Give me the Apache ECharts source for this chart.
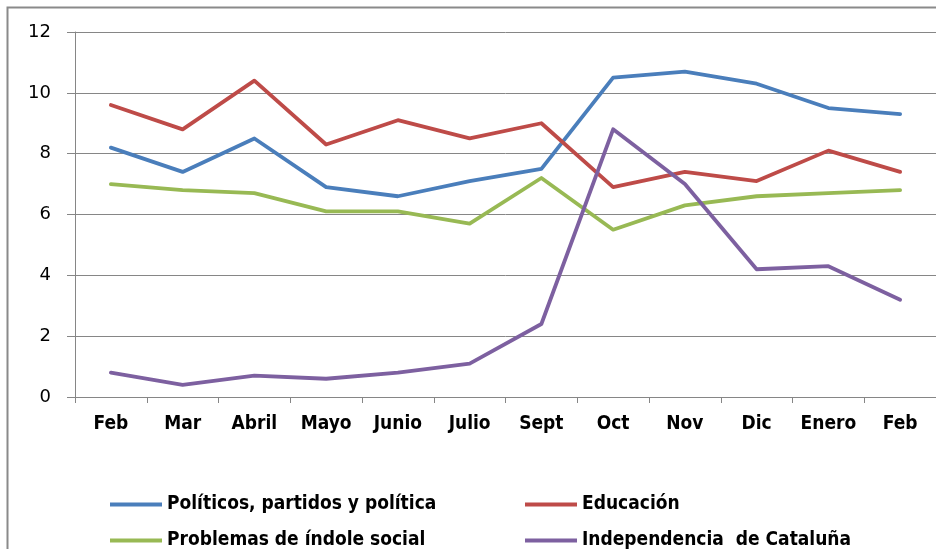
<!DOCTYPE html>
<html>
<head>
<meta charset="utf-8">
<script src="https://cdn.jsdelivr.net/npm/echarts@6/dist/echarts.min.js"></script>
<style>
html,body{margin:0;padding:0;background:#fff;}
#c{width:936px;height:549px;}
</style>
</head>
<body>
<div id="c"></div>
<script>
var categories = ['Feb','Mar','Abril','Mayo','Junio','Julio','Sept','Oct','Nov','Dic','Enero','Feb'];
var politicos = [8.2, 7.4, 8.5, 6.9, 6.6, 7.1, 7.5, 10.5, 10.7, 10.3, 9.5, 9.3];
var educacion = [9.6, 8.8, 10.4, 8.3, 9.1, 8.5, 9.0, 6.9, 7.4, 7.1, 8.1, 7.4];
var social = [7.0, 6.8, 6.7, 6.1, 6.1, 5.7, 7.2, 5.5, 6.3, 6.6, 6.7, 6.8];
var cataluna = [0.8, 0.4, 0.7, 0.6, 0.8, 1.1, 2.4, 8.8, 7.0, 4.2, 4.3, 3.2];
var yTicks = [0, 2, 4, 6, 8, 10, 12];

var names = ['Políticos, partidos y política','Educación','Problemas de índole social','Independencia  de Cataluña'];
var colors = ['#4A7EBB','#BE4B48','#98B954','#7D60A0'];
var seriesData = [politicos, educacion, social, cataluna];

var labelFont = '"Liberation Sans Narrow","DejaVu Sans Condensed","Liberation Sans",sans-serif';

function legendAt(name, left, top) {
  return {
    data: [name], left: left, top: top, orient: 'horizontal', padding: 0,
    icon: 'rect', itemWidth: 52, itemHeight: 4, itemGap: 4,
    textStyle: {fontFamily: labelFont, fontWeight: 'bold', fontSize: 19, color: '#000'},
    selectedMode: false
  };
}

var chart = echarts.init(document.getElementById('c'), null, {renderer: 'canvas'});
chart.setOption({
  animation: false,
  backgroundColor: '#fff',
  color: colors,
  graphic: [
    {type: 'polyline', shape: {points: [[7.5, 560], [7.5, 7.5], [940, 7.5]]}, style: {stroke: '#8a8a8a', lineWidth: 2, fill: null}, silent: true}
  ],
  legend: [
    legendAt(names[0], 110, 495),
    legendAt(names[1], 525, 495),
    legendAt(names[2], 110, 531),
    legendAt(names[3], 525, 531)
  ],
  grid: {left: 75, right: -2, top: 32, bottom: 152, containLabel: false},
  xAxis: {
    type: 'category',
    data: categories,
    boundaryGap: true,
    axisLine: {show: true, lineStyle: {color: '#868686', width: 1}},
    axisTick: {show: true, length: 6, alignWithLabel: false, lineStyle: {color: '#868686'}},
    axisLabel: {margin: 18, fontFamily: labelFont, fontWeight: 'bold', fontSize: 19, color: '#000', interval: 0}
  },
  yAxis: {
    type: 'value',
    min: 0, max: 12, interval: 2,
    axisLine: {show: true, lineStyle: {color: '#868686', width: 1}},
    axisTick: {show: true, length: 8, lineStyle: {color: '#868686'}},
    axisLabel: {margin: 24, fontFamily: '"DejaVu Sans",Verdana,sans-serif', fontSize: 18, color: '#000',
      formatter: function (v) { return yTicks.indexOf(v) >= 0 ? String(v) : ''; }},
    splitLine: {show: true, lineStyle: {color: '#868686', width: 1}}
  },
  series: seriesData.map(function (d, i) {
    return {
      name: names[i], type: 'line', data: d,
      symbol: 'none', smooth: false,
      lineStyle: {width: 3.8, color: colors[i], cap: 'round', join: 'round'},
      itemStyle: {color: colors[i]}
    };
  })
});
</script>
</body>
</html>
